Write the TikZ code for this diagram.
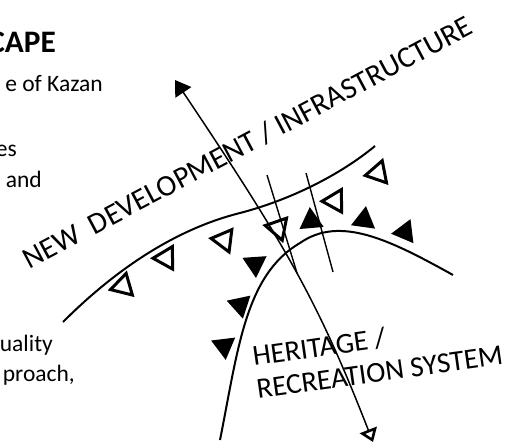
\documentclass[tikz,border=0pt]{standalone}
\usepackage{fontspec}
\setmainfont{Carlito}
\usetikzlibrary{arrows.meta,shapes.geometric}

\begin{document}
\begin{tikzpicture}[x=1pt,y=-1pt,
  opentri/.style={regular polygon,regular polygon sides=3,draw,line width=3pt,inner sep=0pt,minimum size=26pt},
  filltri/.style={regular polygon,regular polygon sides=3,fill,inner sep=0pt,minimum size=28pt},
  zonetext/.style={font=\fontsize{30}{36}\selectfont,inner sep=0pt,anchor=base west},
  sidetext/.style={font=\fontsize{23.5}{30}\selectfont,inner sep=0pt,anchor=base east}]
\useasboundingbox (0,0) rectangle (529,446);

% text cut off on the left
\node[sidetext,font=\fontsize{31.3}{38}\selectfont\bfseries] (title) at (56,53) {CAPE};
\node[sidetext] (l1) at (103,92) {e of Kazan};
\node[sidetext] (l2) at (17,157) {es};
\node[sidetext] (l3) at (42,188) {and};
\node[sidetext] (l4) at (53,351) {uality};
\node[sidetext] (l5) at (75,381) {proach,};

% zone edges
\draw[line width=2pt] (63,322) .. controls (120,265) and (180,228) .. (240,213)
  .. controls (290,200) and (340,175) .. (375,146);
\draw[line width=2pt] (220,440) .. controls (238,350) and (245,275) .. (300,243)
  .. controls (340,215) and (390,240) .. (453,275);
\draw[line width=1.4pt] (267,175) -- (297,273);
\draw[line width=1.4pt] (306,173) -- (333,272);

% fronts
\foreach \x/\y/\r [count=\i] in {123/286/106, 166/258/91, 224/240/83, 278/228/-161, 335/201/91, 378/173/101}
  \node[opentri,rotate=\r] (open\i) at (\x,\y) {};
\foreach \x/\y/\r [count=\i] in {311/221/5, 364/220/-8, 405/232/-23, 255/264/64, 240/305/72, 224/346/67}
  \node[filltri,rotate=\r] (full\i) at (\x,\y) {};

% axis
\coordinate (top) at (175,80);
\coordinate (bottom) at (373,442);
\draw[line width=1.5pt,{Triangle[length=15pt,width=19pt]}-{Triangle[open,length=13pt,width=18pt,line width=2.6pt]}]
  (top) .. controls (289,250) and (319,304) .. (bottom);

% labels
\node[zonetext,rotate=28] (newdev) at (29,270) {NEW~ DEVELOPMENT / INFRASTRUCTURE};
\node[zonetext,font=\fontsize{29}{35}\selectfont,rotate=8] (herit) at (254,366) {HERITAGE /};
\node[zonetext,font=\fontsize{29}{35}\selectfont,rotate=8] (recr) at (258,399) {RECREATION SYSTEM};
\end{tikzpicture}
\end{document}
